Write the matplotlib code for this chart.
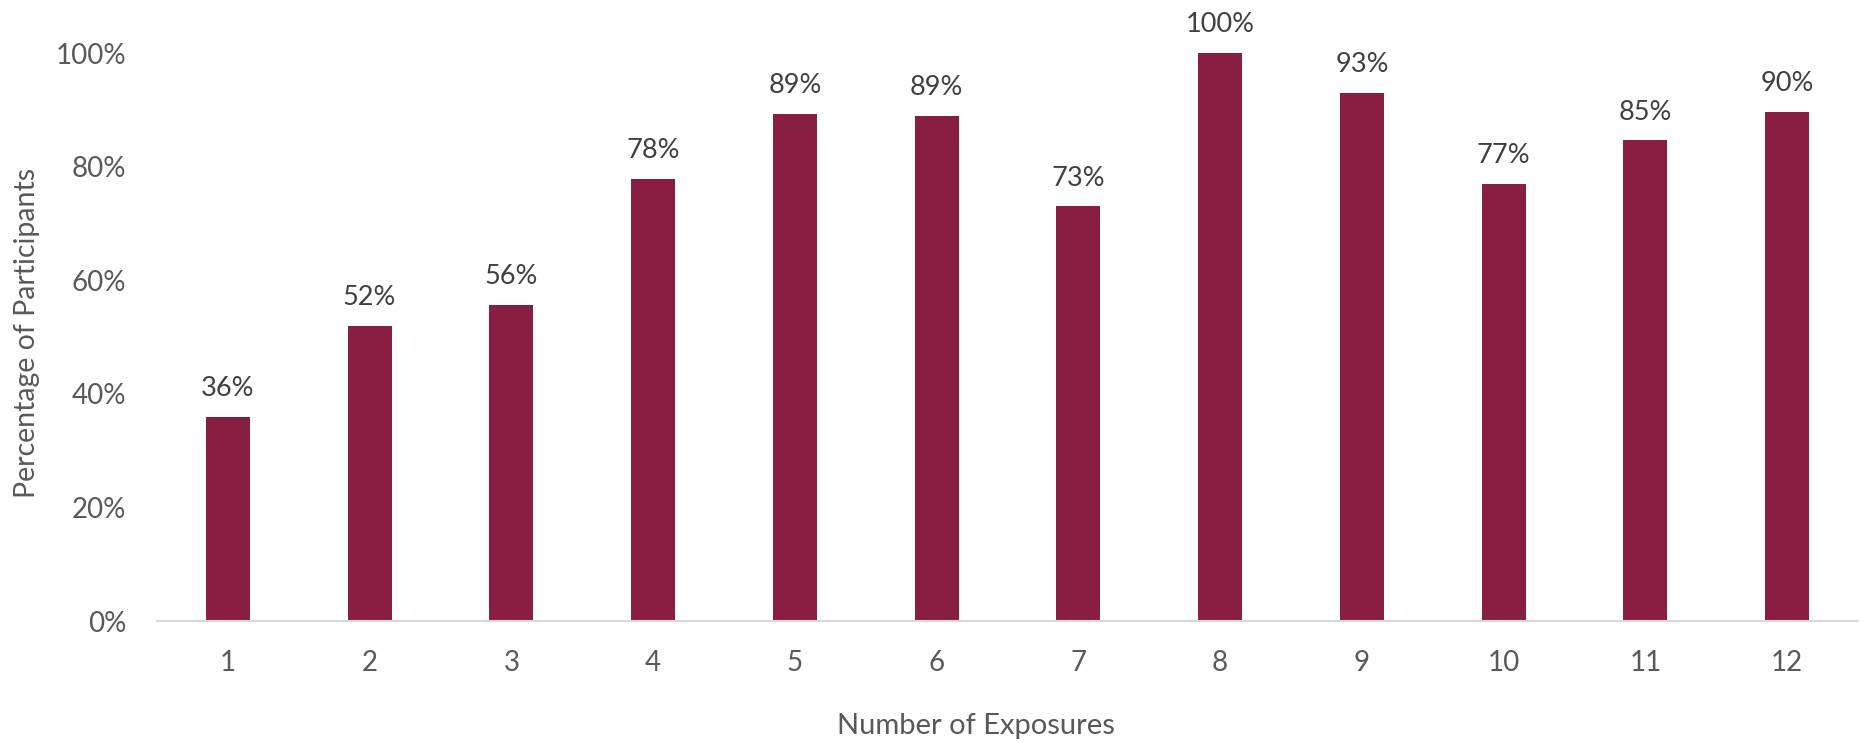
import matplotlib
matplotlib.use("Agg")
import matplotlib.pyplot as plt

categories = ["1", "2", "3", "4", "5", "6", "7", "8", "9", "10", "11", "12"]
values = [0.36, 0.519, 0.556, 0.778, 0.893, 0.889, 0.73, 1.0, 0.929, 0.77, 0.846, 0.897]
yticks = [0, 0.2, 0.4, 0.6, 0.8, 1.0]
ytick_labels = ["0%", "20%", "40%", "60%", "80%", "100%"]

plt.rcParams['font.family'] = ['Lato', 'DejaVu Sans']

W, H = 1860, 743
fig = plt.figure(figsize=(W / 100, H / 100), dpi=100)
left, right, bottom, top = 157, 1858, 621, 53
ax = fig.add_axes([left / W, 1 - bottom / H, (right - left) / W, (bottom - top) / H])

x = list(range(1, len(categories) + 1))
ax.bar(x, values, width=0.31, color="#881E42", zorder=3)
for xi, v in zip(x, values):
    ax.annotate(f"{round(v * 100):.0f}%", (xi, v), xytext=(0, 15), textcoords="offset points",
                ha="center", va="baseline", fontsize=19.5, color="#404040", annotation_clip=False)

ax.set_xlim(0.5, 12.5)
ax.set_ylim(0, 1.0)
ax.set_xticks(x)
ax.set_xticklabels(categories)
ax.set_yticks(yticks)
ax.set_yticklabels(ytick_labels)
ax.tick_params(axis="both", length=0, labelsize=20, labelcolor="#595959")
ax.tick_params(axis="y", pad=22)
ax.tick_params(axis="x", pad=21)
for s in ["top", "right", "left"]:
    ax.spines[s].set_visible(False)
ax.spines["bottom"].set_color("#D9D9D9")
ax.spines["bottom"].set_linewidth(1.5)
ax.spines["bottom"].set_zorder(4)

fig.text(976 / W, 1 - 726 / H, "Number of Exposures", fontsize=21, color="#595959",
         ha="center", va="center")
fig.text(27 / W, 1 - 333 / H, "Percentage of Participants", fontsize=20.5, color="#595959",
         ha="center", va="center", rotation=90)

fig.savefig("out.png", dpi=100, facecolor="white")
